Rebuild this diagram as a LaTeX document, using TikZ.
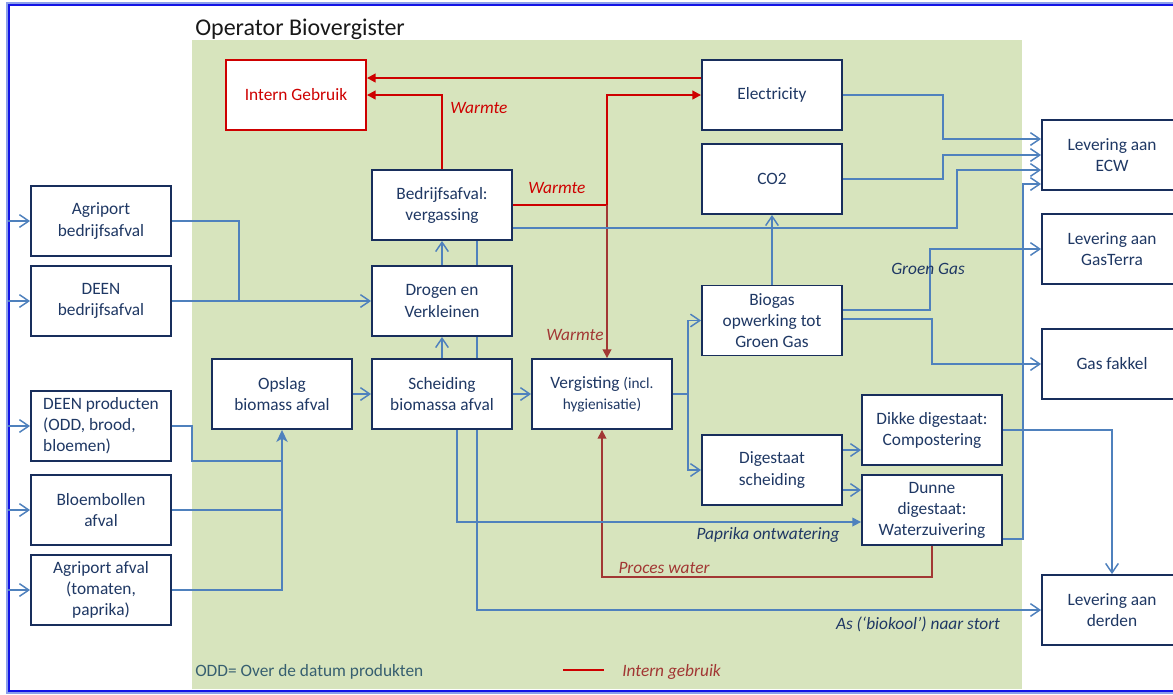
\documentclass[tikz,border=0pt]{standalone}
\usepackage{fontspec}
\setmainfont{Carlito}
\usetikzlibrary{arrows.meta,calc}
\definecolor{bl}{RGB}{79,129,189}
\definecolor{navy}{RGB}{31,56,100}
\definecolor{boxc}{RGB}{24,46,92}
\definecolor{rd}{RGB}{206,0,0}
\definecolor{brn}{RGB}{162,55,52}
\definecolor{grn}{RGB}{215,228,189}
\definecolor{frm}{RGB}{20,20,230}
\definecolor{frml}{RGB}{140,160,235}
\definecolor{slate}{RGB}{55,95,112}
\pgfdeclarelayer{bg}
\pgfdeclarelayer{lines}
\pgfsetlayers{bg,lines,main}
\tikzset{
  box/.style={draw=boxc, line width=1.4pt, fill=white, minimum width=105pt, minimum height=52.5pt,
    align=center, text=navy, font=\fontsize{13}{15.8}\selectfont, inner sep=2pt},
  redbox/.style={box, draw=rd, text=rd},
  bline/.style={draw=bl, line width=1.1pt},
  barr/.style={bline, -{Straight Barb[length=7pt,width=9.5pt]}},
  bfill/.style={bline, -{Triangle[length=6.5pt,width=6.5pt]}},
  bstealth/.style={bline, -{Stealth[length=9pt,width=8.5pt,inset=2.5pt]}},
  redarr/.style={draw=rd, line width=1.5pt, -{Triangle[length=6.5pt,width=6.5pt]}},
  redline/.style={draw=rd, line width=1.5pt},
  brownarr/.style={draw=brn, line width=1.2pt, -{Triangle[length=6.5pt,width=6.5pt]}},
  lab/.style={font=\fontsize{13}{15.8}\selectfont\itshape, inner sep=0pt},
}
\begin{document}
\begin{tikzpicture}[x=0.75pt,y=-0.75pt]
\useasboundingbox (0,0) rectangle (1173,694);
\begin{pgfonlayer}{bg}
  \fill[white] (0,0) rectangle (1173,694);
  \fill[grn] (192,40) rectangle (1022,689);
  \draw[frml, line width=0.8pt] (7,3) rectangle (1185,693);
  \draw[frm, line width=1.6pt] (9,5) rectangle (1183,691);
\end{pgfonlayer}

\node[font=\fontsize{18}{20}\selectfont, text=black!90, anchor=west, inner sep=0pt] (title) at (195,29) {Operator Biovergister};

% left inputs
\node[box] (agb) at (101,221) {Agriport\\bedrijfsafval};
\node[box] (deenb) at (101,301) {DEEN\\bedrijfsafval};
\node[box, align=left] (deenp) at (101,426) {DEEN producten\\(ODD, brood,\\bloemen)};
\node[box] (bloem) at (101,510) {Bloembollen\\afval};
\node[box] (agra) at (101,590) {Agriport afval\\(tomaten,\\paprika)};

% inner
\node[redbox] (intern) at (296,95) {Intern Gebruik};
\node[box] (elec) at (772,95) {Electricity};
\node[box] (co2) at (772,179) {CO2};
\node[box] (bedr) at (442,205) {Bedrijfsafval:\\vergassing};
\node[box] (drog) at (442,301) {Drogen en\\Verkleinen};
\node[box] (opslag) at (282,394) {Opslag\\biomass afval};
\node[box] (scheid) at (442,394) {Scheiding\\biomassa afval};
\node[box] (verg) at (602,394) {Vergisting {\fontsize{11.5}{15}\selectfont(incl.}\\{\fontsize{11.5}{15}\selectfont hygienisatie)}};
\node[box] (biogas) at (772,320.5) {Biogas\\opwerking tot\\Groen Gas};
\node[box] (digest) at (772,470) {Digestaat\\scheiding};
\node[box] (dikke) at (932,430) {Dikke digestaat:\\Compostering};
\node[box] (dunne) at (932,510) {Dunne\\digestaat:\\Waterzuivering};

% right outputs
\node[box] (ecw) at (1112,155) {Levering aan\\ECW};
\node[box] (gast) at (1112,249) {Levering aan\\GasTerra};
\node[box] (fakkel) at (1112,364) {Gas fakkel};
\node[box] (derden) at (1112,610) {Levering aan\\derden};

\coordinate (wj) at (607,205);

\begin{pgfonlayer}{lines}
  % input arrows from frame
  \foreach \n in {agb,deenb,deenp,bloem,agra}{
    \draw[barr] ($(\n.west)+(-22,0)$) -- (\n.west);
  }
  % red internal use
  \draw[redarr] ($(elec.west)+(0,-17)$) coordinate (e1) -- (intern.east |- e1);
  \draw[redarr] (bedr.north) |- (intern.east);
  \draw[redline] (bedr.east) -- (wj);
  \draw[redarr] (wj) |- (elec.west);
  \draw[brownarr] (wj) -- (wj |- verg.north);
  \draw[brownarr] (dunne.south) -- ++(0,31) -| (verg.south);

  % blue flows
  \draw[bline] (agb.east) -| ($(deenb.east)+(67,0)$);
  \draw[barr] (deenb.east) -- (drog.west);
  \draw[barr] (drog.north) -- (bedr.south);
  \draw[barr] (scheid.north) -- (drog.south);
  \draw[barr] (opslag.east) -- (scheid.west);
  \draw[barr] (scheid.east) -- (verg.west);
  \draw[barr] ($(bedr.south)+(35,0)$) |- (derden.west);
  \draw[bfill] ($(scheid.south)+(15,0)$) |- ($(dunne.west)+(0,12)$);
  \draw[bline] (deenp.east) -- ++(20,0) |- ($(opslag.south)+(0,31)$);
  \draw[bline] (bloem.east) -- (bloem.east -| opslag.south);
  \draw[bstealth] (agra.east) -| (opslag.south);
  \draw[barr] (verg.east) -- ++(15,0) |- (biogas.west);
  \draw[barr] (verg.east) -- ++(15,0) |- (digest.west);
  \draw[barr] (biogas.north) -- (co2.south);
  \draw[barr] ($(digest.east)+(0,-20)$) coordinate (d1) -- (dikke.west |- d1);
  \draw[barr] ($(digest.east)+(0,20)$) coordinate (d2) -- (dunne.west |- d2);
  \draw[barr] (elec.east) -- ++(100,0) |- ($(ecw.west)+(0,-16)$);
  \draw[barr] (co2.east) -- ++(100,0) |- (ecw.west);
  \draw[barr] ($(bedr.east)+(0,23)$) -- ++(444,0) |- ($(ecw.west)+(0,15)$);
  \draw[barr] ($(dunne.east)+(0,29)$) -- ++(20,0) |- ($(ecw.west)+(0,29)$);
  \draw[barr] ($(biogas.east)+(0,-10.5)$) -- ++(87,0) |- (gast.west);
  \draw[barr] ($(biogas.east)+(0,-1.5)$) -- ++(89,0) |- (fakkel.west);
  \draw[barr] (dikke.east) -| (derden.north);
  % legend line
  \draw[redline] (563,670) coordinate (lg1) -- (604,670) coordinate (lg2);
\end{pgfonlayer}

% labels
\node[lab, text=rd] (w1) at (479,108) {Warmte};
\node[lab, text=rd] (w2) at (557,188) {Warmte};
\node[lab, text=brn] (w3) at (575,335) {Warmte};
\node[lab, text=navy] (gg) at (928,269) {Groen Gas};
\node[lab, text=navy] (po) at (768,535) {Paprika ontwatering};
\node[lab, text=brn] (pw) at (664,568) {Proces water};
\node[lab, text=navy] (as) at (918,624) {As (‘biokool’) naar stort};
\node[font=\fontsize{13}{15.8}\selectfont, text=slate, inner sep=0pt, anchor=west] (odd) at (195,672) {ODD= Over de datum produkten};
\node[lab, text=brn, anchor=west] (lgt) at (622,672) {Intern gebruik};
\end{tikzpicture}
\end{document}
